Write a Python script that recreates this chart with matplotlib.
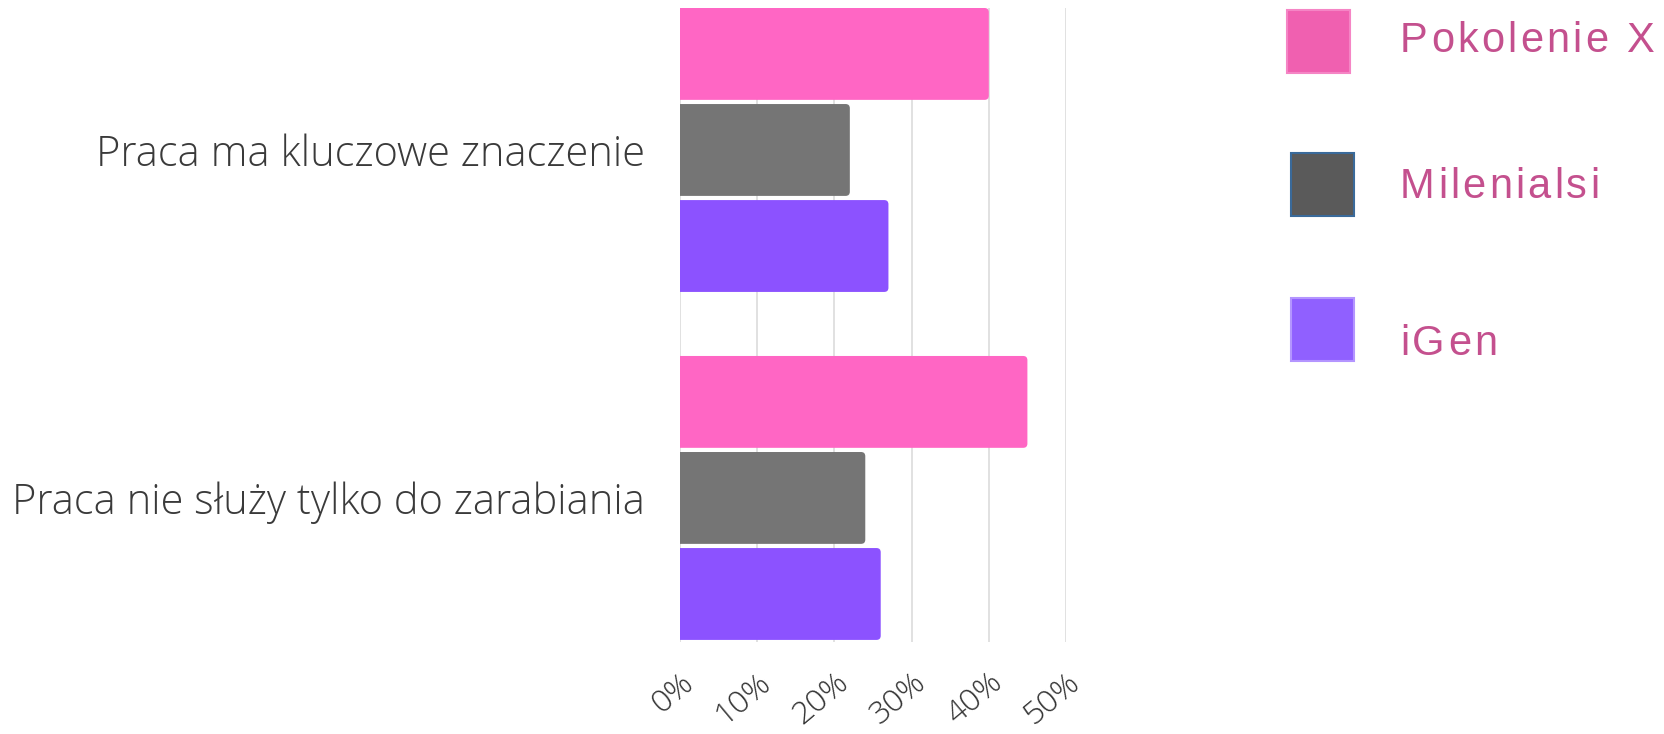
import matplotlib.pyplot as plt
import matplotlib.transforms as mtransforms
from matplotlib.patches import Rectangle, FancyBboxPatch
import numpy as np

categories = ['Praca ma kluczowe znaczenie', 'Praca nie służy tylko do zarabiania']
series = ['Pokolenie X', 'Milenialsi', 'iGen']
pokolenie_x = [40, 45]
milenialsi = [22, 24]
igen = [27, 26]
ticks = [0, 10, 20, 30, 40, 50]
tick_labels = ['0%', '10%', '20%', '30%', '40%', '50%']

bar_colors = ['#ff66c4', '#757575', '#8c52ff']
legend_colors = ['#f060b0', '#5a5a5a', '#9060ff']
legend_edges = ['#f585c5', '#3a6a9a', '#b495ff']

W, H = 1664, 734
fig = plt.figure(figsize=(W / 100, H / 100), dpi=100)
ax = fig.add_axes([680 / W, 1 - 642 / H, (1066 - 680) / W, (642 - 8) / H])

y = np.arange(len(categories))
pitch = 0.276
h = 0.264
for i, vals in enumerate([pokolenie_x, milenialsi, igen]):
    bars = ax.barh(y + (i - 1) * pitch, vals, height=h, color=bar_colors[i], zorder=2)
    # swap plain rectangles for ones with rounded ends
    for b in bars:
        b.set_visible(False)
        p = FancyBboxPatch((b.get_x() - 2, b.get_y()), b.get_width() + 2, b.get_height(),
                           boxstyle='round,pad=0,rounding_size=0.55',
                           mutation_aspect=0.0221, facecolor=bar_colors[i],
                           edgecolor='none', zorder=2)
        ax.add_patch(p)

ax.set_xlim(0, 50)
ax.set_ylim(1.414, -0.408)
ax.set_xticks(ticks)
ax.set_xticklabels(tick_labels, rotation=40, ha='right', va='top',
                   rotation_mode='anchor', fontsize=23, color='#333333',
                   family='Open Sans', fontweight='light')
off = mtransforms.ScaledTranslation(14 / 100, 0, fig.dpi_scale_trans)
for lab in ax.get_xticklabels():
    lab.set_transform(lab.get_transform() + off)
ax.set_yticks(y)
ax.set_yticklabels(categories, fontsize=30, color='#3a3a3a',
                   family='Open Sans', fontweight='light')
ax.tick_params(axis='both', length=0)
ax.tick_params(axis='y', pad=25)
ax.tick_params(axis='x', pad=18)
ax.grid(axis='x', color='#dedede', lw=1.3, zorder=0)
for s in ax.spines.values():
    s.set_visible(False)

# legend drawn by hand, positions in figure pixels
sq = [(1287, 10), (1291, 153), (1291, 298)]
base = [52, 198, 355]
renderer = fig.canvas.get_renderer()
for i, name in enumerate(series):
    x0, y0 = sq[i]
    fig.add_artist(Rectangle((x0 / W, 1 - (y0 + 63) / H), 63 / W, 63 / H,
                             transform=fig.transFigure, facecolor=legend_colors[i],
                             edgecolor=legend_edges[i], lw=1.5))
    # letter spaced text
    xp = 1400
    for ch in name:
        t = fig.text(xp / W, 1 - base[i] / H, ch, fontsize=30, color='#c4508e',
                     family='Liberation Sans', va='baseline', ha='left')
        xp += t.get_window_extent(renderer).width + 3.2

fig.savefig('out.png', dpi=100, facecolor='white')
